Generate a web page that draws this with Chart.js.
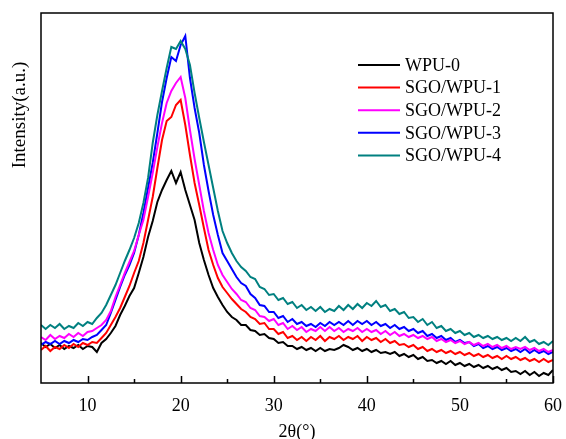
<!DOCTYPE html>
<html>
<head>
<meta charset="utf-8">
<script src="https://cdn.jsdelivr.net/npm/chart.js@4"></script>
<style>
  html, body { margin: 0; padding: 0; background: #fff; }
  #wrap { width: 566px; height: 439px; }
</style>
</head>
<body>
<div id="wrap"><canvas id="xrd"></canvas></div>
<script>
// XRD patterns, 2theta from 5 to 60 deg sampled every 0.5 deg
const seriesNames = ['WPU-0', 'SGO/WPU-1', 'SGO/WPU-2', 'SGO/WPU-3', 'SGO/WPU-4'];
const seriesColors = ['#000000', '#ff0000', '#ff00ff', '#0000ff', '#008080'];
const xTickLabels = [10, 20, 30, 40, 50, 60];
const xMinorTicks = [15, 25, 35, 45, 55];
const twoTheta = Array.from({ length: 111 }, (_, i) => 5 + i * 0.5);

const wpu0 = [
  40,36,39,35,38,34,37,35,38,34,
  37,36,31,40,44,50,57,68,77,87,
  95,110,126,146,162,181,193,203,212,200,
  211,193,178,163,140,123,108,95,86,78,
  71,66,63,58,58,53,52,48,49,45,
  44,40,41,37,37,34,36,33,35,32,
  35,32,34,33,35,38,36,33,35,32,
  34,31,33,30,31,29,31,27,29,26,
  28,24,26,22,23,20,22,19,22,18,
  20,17,19,16,18,15,17,14,16,13,
  15,11,12,9,12,8,11,7,10,8,
  13];
const sgo1 = [
  33,37,32,36,34,38,35,39,36,40,
  38,41,40,45,50,58,66,75,86,97,
  110,122,140,163,186,215,243,262,266,278,
  283,258,228,200,178,155,133,118,105,96,
  90,84,79,74,71,66,64,59,60,54,
  54,49,51,45,47,43,46,42,46,43,
  47,42,46,44,47,43,46,44,47,42,
  46,43,45,41,44,40,42,38,39,36,
  38,34,36,32,34,31,33,30,32,29,
  31,28,30,27,29,26,28,25,27,24,
  27,24,26,23,25,22,24,21,24,21,
  23];
const sgo2 = [
  46,43,48,44,47,45,49,46,50,47,
  51,52,55,58,63,72,86,98,110,121,
  132,148,163,186,210,236,260,280,292,300,
  306,285,253,224,198,172,150,133,118,108,
  101,94,89,83,81,75,73,67,66,62,
  64,58,60,54,57,53,56,51,54,52,
  56,52,56,52,55,51,54,52,55,51,
  54,51,53,49,52,48,51,47,49,46,
  48,45,47,44,46,42,44,41,43,40,
  42,39,41,38,40,37,39,36,38,35,
  37,34,36,34,36,33,35,32,34,31,
  33];
const sgo3 = [
  38,41,39,42,39,42,40,43,41,44,
  43,46,48,53,58,70,83,96,108,118,
  130,148,170,195,220,250,281,305,326,322,
  338,347,305,275,250,218,192,168,148,130,
  122,114,106,100,97,89,85,78,77,71,
  71,65,67,61,64,59,61,57,59,56,
  60,57,61,58,61,58,62,58,62,59,
  62,58,61,57,59,55,58,54,56,52,
  54,50,52,47,49,45,47,43,45,41,
  43,40,41,37,39,35,37,34,36,33,
  35,32,34,31,34,30,33,30,32,29,
  31];
const sgo4 = [
  58,54,58,55,59,54,57,55,60,57,
  61,59,65,70,78,88,98,110,122,133,
  145,160,180,205,240,268,292,315,336,334,
  342,334,318,290,265,241,218,195,172,152,
  140,130,122,116,112,106,104,96,94,88,
  89,83,85,79,81,75,78,73,76,72,
  76,71,74,72,77,73,78,74,79,75,
  80,77,82,76,78,72,74,69,71,65,
  66,61,64,58,61,55,57,52,54,50,
  52,48,50,46,48,45,47,44,46,43,
  45,42,45,42,46,41,43,39,41,38,
  42];

const allSeries = [wpu0, sgo1, sgo2, sgo3, sgo4];
const serif = '"Liberation Serif", "Times New Roman", serif';

// frame, inward ticks, y title and legend are drawn by hand
const framePlugin = {
  id: 'frame',
  afterDraw(chart) {
    const ctx = chart.ctx;
    const a = chart.chartArea;
    const xs = chart.scales.x;
    ctx.save();
    ctx.strokeStyle = '#000';
    ctx.lineWidth = 1.5;
    ctx.strokeRect(a.left, a.top, a.right - a.left, a.bottom - a.top);
    ctx.beginPath();
    xTickLabels.forEach(v => {
      const px = Math.round(xs.getPixelForValue(v)) + 0.5;
      ctx.moveTo(px, a.bottom); ctx.lineTo(px, a.bottom - 7);
    });
    xMinorTicks.forEach(v => {
      const px = Math.round(xs.getPixelForValue(v)) + 0.5;
      ctx.moveTo(px, a.bottom); ctx.lineTo(px, a.bottom - 4);
    });
    ctx.stroke();

    // y axis title
    ctx.fillStyle = '#000';
    ctx.font = '19px ' + serif;
    ctx.textAlign = 'center';
    ctx.textBaseline = 'middle';
    ctx.translate(20, 115);
    ctx.rotate(-Math.PI / 2);
    ctx.fillText('Intensity(a.u.)', 0, 0);
    ctx.restore();

    // legend
    ctx.save();
    ctx.font = '18px ' + serif;
    ctx.textBaseline = 'middle';
    chart.data.datasets.forEach((ds, i) => {
      const y = 65 + i * 22.6;
      ctx.strokeStyle = ds.borderColor;
      ctx.lineWidth = 2;
      ctx.beginPath();
      ctx.moveTo(358, y); ctx.lineTo(400, y);
      ctx.stroke();
      ctx.fillStyle = '#000';
      ctx.fillText(ds.label, 405, y + 1);
    });
    ctx.restore();
  }
};

const drawOrder = [5, 4, 2, 3, 1];

new Chart(document.getElementById('xrd'), {
  type: 'line',
  data: {
    datasets: allSeries.map((vals, i) => ({
      label: seriesNames[i],
      data: vals.map((v, j) => ({ x: twoTheta[j], y: v })),
      borderColor: seriesColors[i],
      backgroundColor: seriesColors[i],
      borderWidth: 2,
      pointRadius: 0,
      tension: 0,
      order: drawOrder[i]
    }))
  },
  options: {
    responsive: true,
    maintainAspectRatio: false,
    animation: false,
    layout: { padding: { left: 41, top: 13, right: 11, bottom: 0 } },
    plugins: { legend: { display: false }, tooltip: { enabled: false } },
    scales: {
      x: {
        type: 'linear',
        min: 5,
        max: 60,
        afterBuildTicks: s => { s.ticks = xTickLabels.map(v => ({ value: v })); },
        afterFit: s => { s.height = 56; },
        grid: { display: false },
        border: { display: false },
        ticks: {
          color: '#000',
          padding: 4,
          maxRotation: 0,
          font: { family: serif, size: 18 }
        },
        title: {
          display: true,
          text: '2θ(°)',
          color: '#000',
          padding: { top: 0, bottom: -4 },
          font: { family: serif, size: 18 }
        }
      },
      y: {
        display: false,
        min: 0,
        max: 370
      }
    }
  },
  plugins: [framePlugin]
});
</script>
</body>
</html>
